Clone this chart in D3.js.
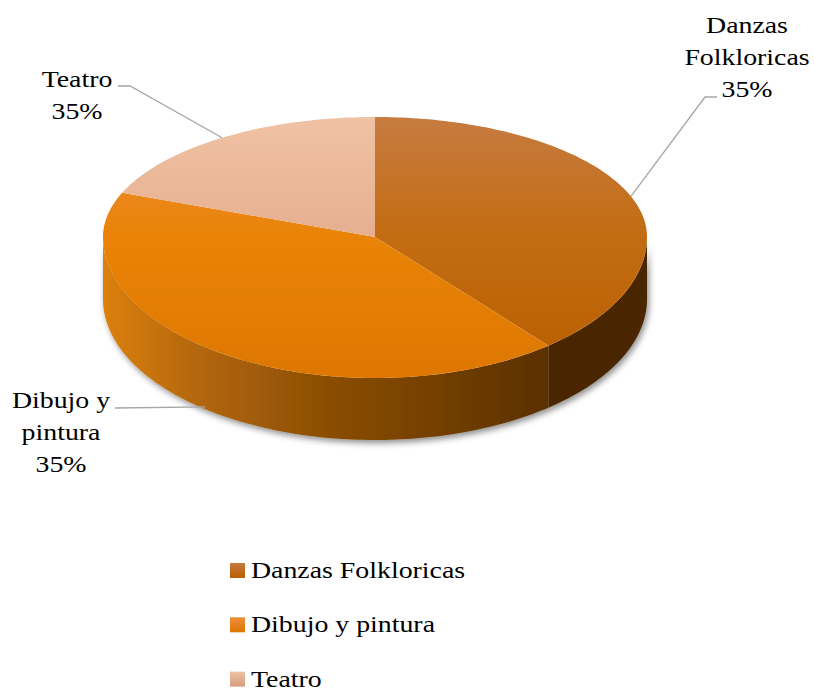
<!DOCTYPE html>
<html>
<head>
<meta charset="utf-8">
<script src="https://cdn.jsdelivr.net/npm/d3@7"></script>
<style>
  body { margin: 0; background: #fff; }
</style>
</head>
<body>
<div id="chart"></div>
<script>
// 3D pie: talleres
var categories = ["Danzas Folkloricas", "Dibujo y pintura", "Teatro"];
var values = [39, 42, 19];
var labelLines = [["Danzas", "Folkloricas", "35%"], ["Dibujo y", "pintura", "35%"], ["Teatro", "35%"]];

var w = 814, h = 691;
var cx = 375, cy = 237, rx = 272, ryTop = 120, ryBot = 141, depth = 62;
var sx = 1.16; // text is drawn a bit wide in the original
var font = "'Liberation Serif', 'Times New Roman', Times, 'DejaVu Serif', serif";

// top colours: top, middle, bottom
var topCols = [["#c67b40", "#c36c12", "#b95e00"], ["#ec8e3a", "#e98408", "#de7700"], ["#f0c2a4", "#e6b090", "#d59c7e"]];
var sideCols = [["#522b00", "#4a2600"], ["#dc800e", "#5a3000"], ["#f0c0a0", "#c09070"]];

var svg = d3.select("#chart").append("svg")
  .attr("width", w)
  .attr("height", h);

var defs = svg.append("defs");

topCols.forEach(function(c, i) {
  var g = defs.append("linearGradient")
    .attr("id", "top" + i)
    .attr("gradientUnits", "userSpaceOnUse")
    .attr("x1", 0).attr("x2", 0).attr("y1", cy - ryTop).attr("y2", cy + ryBot);
  g.append("stop").attr("offset", 0).attr("stop-color", c[0]);
  g.append("stop").attr("offset", 0.45).attr("stop-color", c[1]);
  g.append("stop").attr("offset", 1).attr("stop-color", c[2]);
  var l = defs.append("linearGradient")
    .attr("id", "leg" + i)
    .attr("x1", 0).attr("x2", 0).attr("y1", 0).attr("y2", 1);
  l.append("stop").attr("offset", 0).attr("stop-color", c[0]);
  l.append("stop").attr("offset", 1).attr("stop-color", c[2]);
});

sideCols.forEach(function(c, i) {
  var g = defs.append("linearGradient")
    .attr("id", "side" + i)
    .attr("gradientUnits", "userSpaceOnUse")
    .attr("x1", cx - rx).attr("x2", cx + rx * 0.64).attr("y1", 0).attr("y2", 0);
  g.append("stop").attr("offset", 0).attr("stop-color", c[0]);
  g.append("stop").attr("offset", 0.2).attr("stop-color", d3.interpolateRgb(c[0], c[1])(0.3));
  g.append("stop").attr("offset", 0.5).attr("stop-color", d3.interpolateRgb(c[0], c[1])(0.62));
  g.append("stop").attr("offset", 1).attr("stop-color", c[1]);
});

var shadow = defs.append("filter")
  .attr("id", "shadow")
  .attr("x", "-10%").attr("y", "-10%").attr("width", "120%").attr("height", "130%");
shadow.append("feDropShadow")
  .attr("dx", 2).attr("dy", 3)
  .attr("stdDeviation", 3)
  .attr("flood-color", "#000")
  .attr("flood-opacity", 0.45);

// point on the (slightly perspective) ellipse, angle clockwise from 12 o'clock
function pt(a, off) {
  var s = Math.sin(a), c = Math.cos(a);
  var ry = c > 0 ? ryTop : ryBot;
  return [cx + rx * s, cy - ry * c + (off || 0)];
}

function arcPts(a0, a1, off) {
  var n = Math.max(2, Math.ceil((a1 - a0) / 0.02));
  return d3.range(n + 1).map(function(k) { return pt(a0 + (a1 - a0) * k / n, off); });
}

var pie = d3.pie().sort(null)(values);
var line = d3.line();

// side walls (front half only)
var sides = svg.append("g").attr("filter", "url(#shadow)");
pie.forEach(function(d, i) {
  var a0 = Math.max(d.startAngle, Math.PI / 2),
      a1 = Math.min(d.endAngle, Math.PI * 3 / 2);
  if (a1 <= a0) return;
  var p = arcPts(a0, a1, 0).concat(arcPts(a0, a1, depth).reverse());
  sides.append("path")
    .attr("d", line(p) + "Z")
    .attr("fill", "url(#side" + i + ")");
});

// top face
svg.append("g").selectAll("path")
  .data(pie)
.enter().append("path")
  .attr("d", function(d) { return line([[cx, cy]].concat(arcPts(d.startAngle, d.endAngle, 0))) + "Z"; })
  .attr("fill", function(d, i) { return "url(#top" + i + ")"; });

// data labels with leader lines
var labelPos = [[747, 33], [61, 408], [77, 87]];
var leaders = [[717, 705, 97], [115, 115, 408], [118, 130, 86]];
var lines = svg.append("g")
  .attr("fill", "none")
  .attr("stroke", "#a6a6a6")
  .attr("stroke-width", 1.3);

pie.forEach(function(d, i) {
  var mid = (d.startAngle + d.endAngle) / 2;
  var front = Math.cos(mid) < 0;
  var a = pt(mid, front ? depth * 0.9 : 0);
  var ld = leaders[i];
  if (front) a[0] -= 10;
  lines.append("path")
    .attr("d", line([[ld[0], ld[2]], [ld[1], ld[2]], a]));

  var lp = labelPos[i];
  var t = svg.append("g")
    .attr("transform", "translate(" + lp[0] + "," + lp[1] + ") scale(" + sx + ",1)");
  t.selectAll("text")
    .data(labelLines[i])
  .enter().append("text")
    .attr("text-anchor", "middle")
    .attr("y", function(s, k) { return k * 32; })
    .attr("font-family", font)
    .attr("font-size", 24)
    .attr("fill", "#000")
    .text(String);
});

// legend
var lg = svg.selectAll(".legend")
  .data(categories)
.enter().append("g")
  .attr("class", "legend")
  .attr("transform", function(d, i) { return "translate(230," + (578 + 54.3 * i) + ")"; });

lg.append("rect")
  .attr("x", 0)
  .attr("y", -15)
  .attr("width", 15)
  .attr("height", 15)
  .attr("fill", function(d, i) { return "url(#leg" + i + ")"; });

lg.append("text")
  .attr("transform", "translate(21,0) scale(" + sx + ",1)")
  .attr("font-family", font)
  .attr("font-size", 24)
  .attr("fill", "#000")
  .text(String);
</script>
</body>
</html>
